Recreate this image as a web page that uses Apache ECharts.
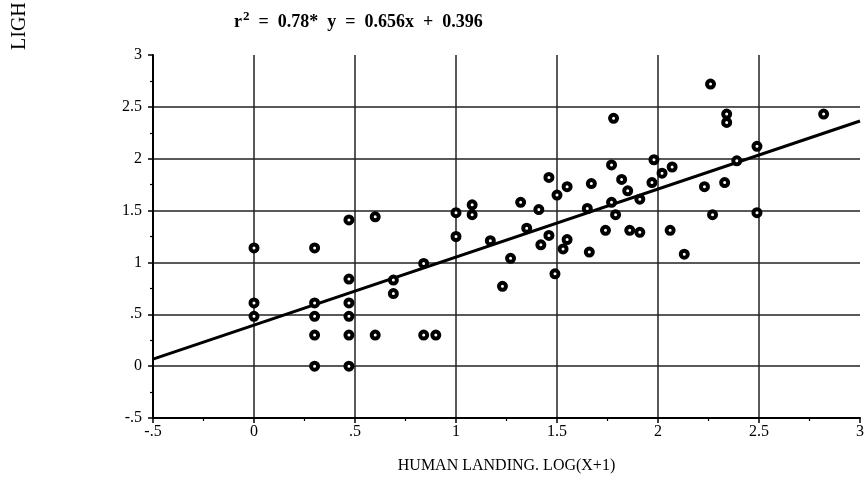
<!DOCTYPE html>
<html>
<head>
<meta charset="utf-8">
<script src="https://cdn.jsdelivr.net/npm/echarts@6/dist/echarts.min.js"></script>
<style>
  html, body { margin: 0; padding: 0; background: #fff; }
  #main { width: 868px; height: 479px; }
</style>
</head>
<body>
<div id="main"></div>
<script>
// observed points: x = human landing log(x+1), y = light trap log(x+1)
var humanLanding = [
  0, 0, 0, 0.30, 0.30, 0.30, 0.30, 0.30,
  0.47, 0.47, 0.47, 0.47, 0.47, 0.47, 0.60, 0.60,
  0.69, 0.69, 0.84, 0.84, 0.90, 1.0, 1.0, 1.08,
  1.08, 1.17, 1.23, 1.27, 1.32, 1.35, 1.41, 1.42,
  1.46, 1.46, 1.49, 1.50, 1.53, 1.55, 1.55, 1.65,
  1.66, 1.67, 1.74, 1.77, 1.77, 1.78, 1.79, 1.82,
  1.85, 1.86, 1.91, 1.91, 1.97, 1.98, 2.02, 2.07,
  2.06, 2.13, 2.23, 2.26, 2.27, 2.33, 2.34, 2.34,
  2.39, 2.49, 2.49, 2.82
];
var lightTrap = [
  1.14, 0.61, 0.48, 1.14, 0.61, 0.48, 0.30, 0.0,
  1.41, 0.84, 0.61, 0.48, 0.30, 0.0, 1.44, 0.30,
  0.83, 0.70, 0.99, 0.30, 0.30, 1.48, 1.25, 1.555,
  1.46, 1.21, 0.77, 1.04, 1.58, 1.33, 1.51, 1.17,
  1.82, 1.26, 0.89, 1.65, 1.13, 1.73, 1.22, 1.52,
  1.10, 1.76, 1.31, 1.58, 1.94, 2.39, 1.46, 1.80,
  1.69, 1.31, 1.61, 1.29, 1.77, 1.99, 1.86, 1.92,
  1.31, 1.08, 1.73, 2.72, 1.46, 1.77, 2.43, 2.35,
  1.98, 2.12, 1.48, 2.43
];

// fitted regression
var fitSlope = 0.656;
var fitIntercept = 0.396;
var fitRange = [-0.5, 3];

var points = humanLanding.map(function (x, i) { return [x, lightTrap[i]]; });
var fitLine = fitRange.map(function (x) { return [x, fitSlope * x + fitIntercept]; });

function tickLabel(v) {
  var s = String(v);
  return s.replace(/^0\./, '.').replace(/^-0\./, '-.');
}

var serif = '"Liberation Serif", "DejaVu Serif", serif';

var axisCommon = {
  type: 'value',
  min: -0.5,
  max: 3,
  interval: 0.5,
  axisLine: { show: true, onZero: false, lineStyle: { color: '#000', width: 2 } },
  axisTick: { show: true, inside: false, length: 5, lineStyle: { color: '#000', width: 1.5 } },
  minorTick: { show: true, splitNumber: 2, length: 3, lineStyle: { color: '#000', width: 1.2 } },
  splitLine: { show: true, showMinLine: false, showMaxLine: false, lineStyle: { color: '#222', width: 1.5 } },
  axisLabel: { color: '#000', fontFamily: serif, fontSize: 16, formatter: tickLabel }
};

var chartDom = document.getElementById('main');
var myChart = echarts.init(chartDom, null, { renderer: 'canvas' });

var option = {
  backgroundColor: '#fff',
  animation: false,
  grid: { left: 153, right: 8, top: 55, bottom: 61 },
  title: {
    text: '{r|r}{sup|2}{t|  =  0.78*  y  =  0.656x  +  0.396}',
    left: 229,
    top: 5,
    textStyle: {
      rich: {
        r: { fontFamily: serif, fontWeight: 'bold', fontSize: 18, color: '#000' },
        sup: { fontFamily: serif, fontWeight: 'bold', fontSize: 13, color: '#000', padding: [0, 0, 12, 1] },
        t: { fontFamily: serif, fontWeight: 'bold', fontSize: 18, color: '#000' }
      }
    }
  },
  graphic: [
    {
      type: 'text',
      x: 10,
      y: 50,
      rotation: Math.PI / 2,
      style: {
        text: 'LIGH',
        fontFamily: serif,
        fontSize: 20,
        fill: '#000',
        textAlign: 'left',
        textVerticalAlign: 'top'
      }
    }
  ],
  xAxis: Object.assign({}, axisCommon, {
    name: 'HUMAN LANDING. LOG(X+1)',
    nameLocation: 'middle',
    nameGap: 40,
    nameTextStyle: { color: '#000', fontFamily: serif, fontSize: 16 },
    axisLabel: Object.assign({}, axisCommon.axisLabel, { margin: 6 })
  }),
  yAxis: Object.assign({}, axisCommon, {
    axisLabel: Object.assign({}, axisCommon.axisLabel, { margin: 11 })
  }),
  series: [
    {
      type: 'line',
      data: fitLine,
      symbol: 'none',
      lineStyle: { color: '#000', width: 3 },
      z: 2
    },
    {
      type: 'scatter',
      data: points,
      symbol: 'circle',
      symbolSize: 7,
      itemStyle: { color: '#fff', borderColor: '#000', borderWidth: 4, opacity: 1 },
      z: 3
    }
  ]
};

option && myChart.setOption(option);
</script>
</body>
</html>
